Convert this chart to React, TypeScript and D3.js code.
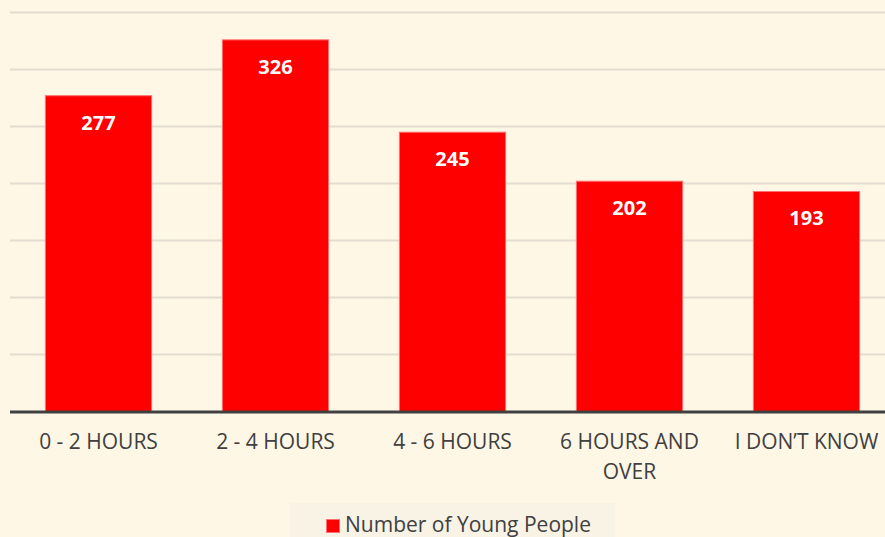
import React from "react";
import * as d3 from "d3";

const categories: string[][] = [["0 - 2 HOURS"], ["2 - 4 HOURS"], ["4 - 6 HOURS"], ["6 HOURS AND", "OVER"], ["I DON\u2019T KNOW"]];
const values: number[] = [277, 326, 245, 202, 193];
const gridTicks: number[] = [50, 100, 150, 200, 250, 300, 350];
const seriesName = "Number of Young People";

export default function App() {
  const W = 885, H = 537;
  const keys = categories.map((c) => c.join(" "));
  const x = d3.scaleBand<string>().domain(keys).range([10, 895]).paddingInner(0.4).paddingOuter(0.2);
  const y = d3.scaleLinear().domain([0, 350]).range([411.5, 12.5]);
  const font = "'Open Sans', sans-serif";
  return (
    <svg width={W} height={H} style={{ position: "absolute", left: 0, top: 0 }} fontFamily={font}>
      <rect width={W} height={H} fill="#FFF7E6" />
      {gridTicks.map((t) => (
        <line key={t} x1={10} x2={W} y1={y(t)} y2={y(t)} stroke="#E2DDD0" strokeWidth={2} />
      ))}
      {values.map((v, i) => (
        <g key={i}>
          <rect x={x(keys[i])!} y={y(v)} width={x.bandwidth()} height={y(0) - y(v)} fill="#FF0000" stroke="#FF7070" strokeWidth={1} />
          <text x={x(keys[i])! + x.bandwidth() / 2} y={y(v) + 34} textAnchor="middle" fill="#FFFFFF" fontWeight="bold" fontSize={20}>{v}</text>
        </g>
      ))}
      <line x1={10} x2={W} y1={y(0) + 0.5} y2={y(0) + 0.5} stroke="#404040" strokeWidth={3} />
      {categories.map((lines, i) => (
        <text key={i} x={x(keys[i])! + x.bandwidth() / 2} textAnchor="middle" fill="#404040" fontSize={21}>
          {lines.map((l, j) => (
            <tspan key={j} x={x(keys[i])! + x.bandwidth() / 2} y={449 + j * 30}>{l}</tspan>
          ))}
        </text>
      ))}
      <rect x={290} y={503} width={325} height={40} fill="#F8F3E5" />
      <rect x={326.5} y={519.5} width={13} height={13} fill="#FF0000" stroke="#FF7070" strokeWidth={1} />
      <text x={345} y={532} fill="#404040" fontSize={21}>{seriesName}</text>
    </svg>
  );
}
